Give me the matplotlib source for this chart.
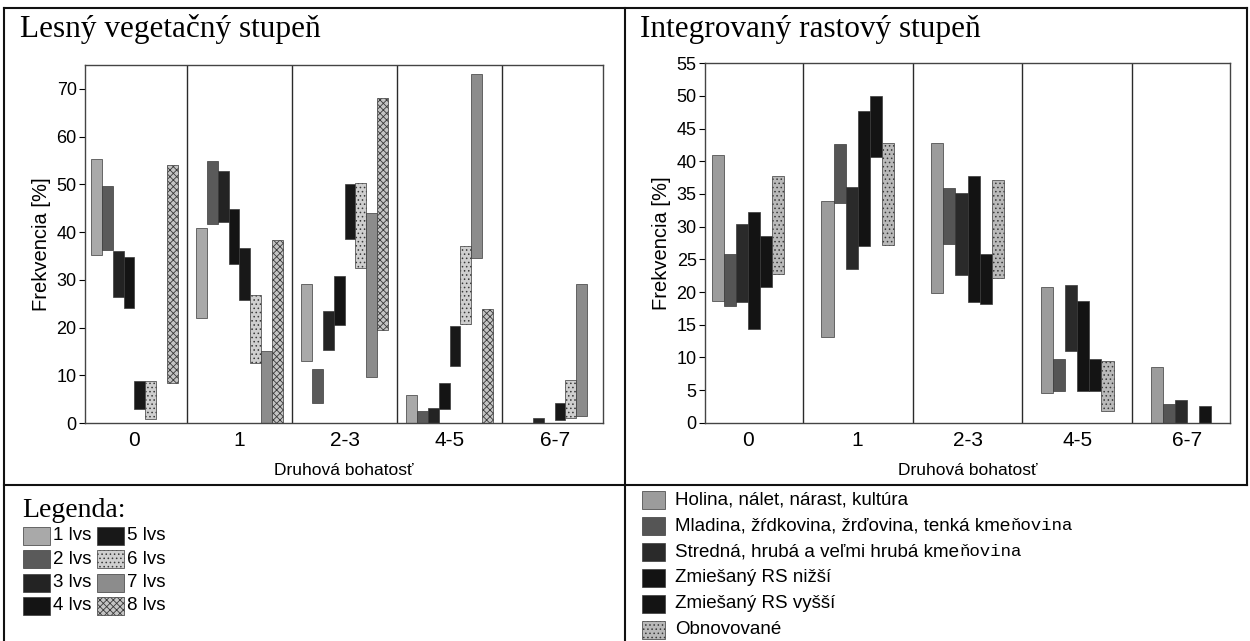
import numpy as np
import matplotlib
matplotlib.use("Agg")
import matplotlib.pyplot as plt
from matplotlib.patches import Rectangle
from matplotlib.lines import Line2D

# --- data ---
categories = ["0", "1", "2-3", "4-5", "6-7"]

# left panel: lesny vegetacny stupen (low, high) per category, None = no bar
lvs_names = ["1 lvs", "2 lvs", "3 lvs", "4 lvs", "5 lvs", "6 lvs", "7 lvs", "8 lvs"]
lvs_low = [
    [35.2, 22.1, 12.9, 0.0, None],
    [36.2, 41.6, 4.2, 0.0, None],
    [26.3, 42.1, 15.2, 0.0, 0.0],
    [24.0, 33.3, 20.5, 3.0, None],
    [3.0, 25.8, 38.5, 12.0, 0.7],
    [0.9, 12.5, 32.5, 20.8, 1.0],
    [None, 0.0, 9.7, 34.5, 1.5],
    [8.4, 0.0, 19.5, 0.0, None],
]
lvs_high = [
    [55.3, 40.9, 29.2, 5.8, None],
    [49.6, 54.9, 11.4, 2.6, None],
    [36.0, 52.7, 23.5, 3.1, 1.0],
    [34.8, 44.9, 30.8, 8.4, None],
    [8.8, 36.6, 50.0, 20.4, 4.2],
    [8.8, 26.9, 50.3, 37.1, 9.1],
    [None, 15.0, 44.0, 73.1, 29.2],
    [54.0, 38.4, 68.1, 23.8, None],
]

# right panel: integrovany rastovy stupen
irs_names = ["Holina, nálet, nárast, kultúra",
             "Mladina, žŕdkovina, žrďovina, tenká kme",
             "Stredná, hrubá a veľmi hrubá kme",
             "Zmiešaný RS nižší",
             "Zmiešaný RS vyšší",
             "Obnovované"]
irs_low = [
    [18.6, 13.1, 19.9, 4.5, 0.0],
    [17.9, 33.6, 27.3, 4.9, 0.0],
    [18.5, 23.5, 22.6, 10.9, 0.0],
    [14.4, 27.1, 18.5, 4.9, None],
    [20.7, 40.6, 18.2, 4.8, 0.0],
    [22.7, 27.2, 22.1, 1.8, None],
]
irs_high = [
    [41.0, 34.0, 42.8, 20.8, 8.6],
    [25.8, 42.6, 35.9, 9.7, 2.8],
    [30.4, 36.1, 35.2, 21.1, 3.5],
    [32.3, 47.7, 37.7, 18.6, None],
    [28.6, 50.0, 25.8, 9.7, 2.5],
    [37.8, 42.8, 37.1, 9.4, None],
]

# --- styles ---
lvs_colors = ["#a9a9a9", "#5a5a5a", "#232323", "#141414", "#181818", "#cfcfcf", "#8c8c8c", "#c4c4c4"]
lvs_hatch = ["", "", "", "", "", "....", "", "xxxxx"]
irs_colors = ["#9c9c9c", "#555555", "#2a2a2a", "#131313", "#141414", "#b9b9b9"]
irs_hatch = ["", "", "", "", "", "...."]

SANS = ["Liberation Sans"]
SERIF = ["Liberation Serif"]
plt.rcParams["font.family"] = SANS
plt.rcParams["hatch.linewidth"] = 0.6

W, H = 1250, 641
fig = plt.figure(figsize=(W / 100, H / 100), dpi=100)


def fx(x):
    return x / W


def fy(y):
    return 1 - y / H


def draw_panel(rect, names, lows, highs, colors, hatches, bw, xlim, ylim, yticks):
    ax = fig.add_axes(rect)
    n = len(names)
    xs = np.arange(len(categories))
    for k in range(n):
        lo = np.array([np.nan if v is None else v for v in lows[k]])
        hi = np.array([np.nan if v is None else v for v in highs[k]])
        ok = ~np.isnan(lo)
        ax.bar(xs[ok] + (k - (n - 1) / 2) * bw, hi[ok] - lo[ok], bottom=lo[ok], width=bw,
               color=colors[k], edgecolor="#3a3a3a", linewidth=0.5, hatch=hatches[k])
    for s in np.arange(0.5, len(categories) - 1, 1.0):
        ax.axvline(s, color="#2a2a2a", lw=1.0)
    ax.set_xlim(*xlim)
    ax.set_ylim(*ylim)
    ax.set_xticks(xs)
    ax.set_xticklabels(categories, fontsize=15)
    ax.set_yticks(yticks)
    ax.tick_params(axis="y", labelsize=13, length=4, width=0.8, pad=2)
    ax.tick_params(axis="x", length=0, pad=6)
    for sp in ax.spines.values():
        sp.set_color("#444444")
        sp.set_linewidth(1.0)
    ax.set_xlabel("Druhová bohatosť", fontsize=12.5, labelpad=9)
    ax.set_ylabel("Frekvencia [%]", fontsize=14.5, labelpad=4)
    return ax


axL = draw_panel([fx(85), fy(423), fx(603) - fx(85), fy(65) - fy(423)],
                 lvs_names, lvs_low, lvs_high, lvs_colors, lvs_hatch,
                 0.103, (-0.47, 4.46), (0, 75), np.arange(0, 71, 10))
axR = draw_panel([fx(705), fy(422.7), fx(1230) - fx(705), fy(63.3) - fy(422.7)],
                 irs_names, irs_low, irs_high, irs_colors, irs_hatch,
                 0.11, (-0.39, 4.39), (0, 55), np.arange(0, 56, 5))

# panel titles
fig.text(fx(20), fy(37), "Lesný vegetačný stupeň", family=SERIF, fontsize=22.5, va="baseline")
fig.text(fx(640), fy(37), "Integrovaný rastový stupeň", family=SERIF, fontsize=22.5, va="baseline")

# frame lines
frame = [((4, 4), (8, H)), ((625, 625), (8, H)), ((1247, 1247), (8, 485)),
         ((4, 1247), (8, 8)), ((4, 1247), (485, 485))]
for xx, yy in frame:
    fig.add_artist(Line2D([fx(xx[0]), fx(xx[1])], [fy(yy[0]), fy(yy[1])],
                          transform=fig.transFigure, color="#111111", lw=1.5))

# left legend
fig.text(fx(22), fy(517), "Legenda:", family=SERIF, fontsize=20, va="baseline")
for i, name in enumerate(lvs_names):
    col, row = divmod(i, 4)
    yc = 536 + row * 23.3
    x0 = 23 + col * 74
    fig.add_artist(Rectangle((fx(x0), fy(yc + 9)), fx(27), 18 / H, transform=fig.transFigure,
                             facecolor=lvs_colors[i], edgecolor="#3a3a3a", lw=0.5, hatch=lvs_hatch[i]))
    fig.text(fx(x0 + 30), fy(yc), name, fontsize=13.5, va="center")

# right legend
for i, name in enumerate(irs_names):
    yc = 500 + i * 26
    fig.add_artist(Rectangle((fx(642), fy(yc + 9)), fx(23), 18 / H, transform=fig.transFigure,
                             facecolor=irs_colors[i], edgecolor="#3a3a3a", lw=0.5, hatch=irs_hatch[i]))
    t = fig.text(fx(675), fy(yc), name, fontsize=13.5, va="center")
    if name.endswith("kme"):
        fig.canvas.draw()
        bb = t.get_window_extent()
        fig.text(bb.x1 / W, fy(yc), "ňovina", family=["Liberation Mono"], fontsize=12.5, va="center")

fig.savefig("out.png", dpi=100)
